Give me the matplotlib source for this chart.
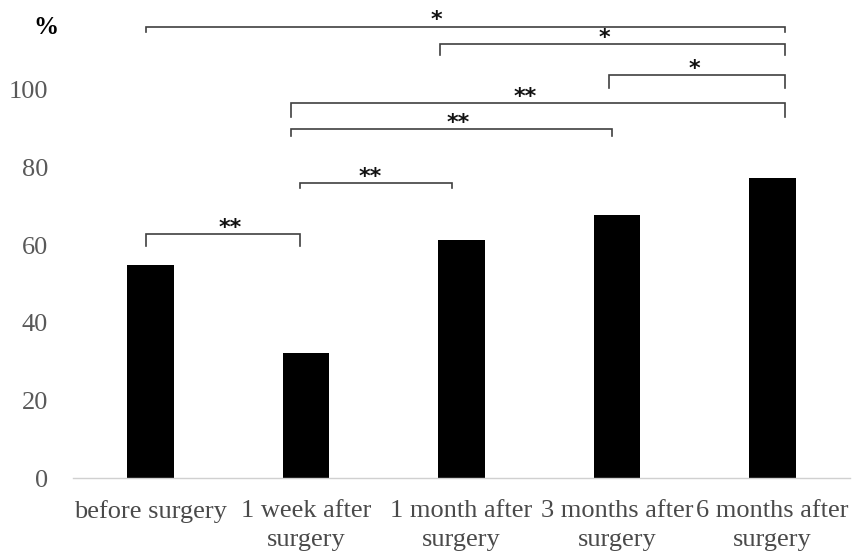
import numpy as np
import matplotlib.pyplot as plt

# categories and values (% of patients)
categories = ['before surgery', '1 week after\nsurgery', '1 month after\nsurgery',
              '3 months after\nsurgery', '6 months after\nsurgery']
values = [54.8, 32.3, 61.2, 67.8, 77.3]

# significance comparisons: (left group, right group, label)
comparisons = [
    (0, 4, '*'),
    (2, 4, '*'),
    (3, 4, '*'),
    (1, 4, '**'),
    (1, 3, '**'),
    (1, 2, '**'),
    (0, 1, '**'),
]

# bracket layout (height, tick drop, left/right offsets, label x)
bracket_y = [116.3, 111.7, 103.7, 96.5, 89.8, 75.9, 62.8]
bracket_drop = [1.3, 2.8, 3.3, 3.6, 1.8, 1.3, 3.1]
left_off = [-0.03, -0.14, -0.05, -0.10, -0.10, -0.04, -0.03]
right_off = [0.08, 0.08, 0.08, 0.08, -0.03, -0.06, -0.04]
label_x = [1.84, 2.92, 3.50, 2.41, 1.98, 1.41, 0.51]

serif = ['Liberation Serif', 'DejaVu Serif']

fig = plt.figure(figsize=(8.53, 5.52), dpi=100)
ax = fig.add_axes([0.0856, 0.134, 0.911, 0.844])

x = np.arange(len(categories))
ax.bar(x, values, width=0.30, color='black')

for k, (i, j, lab) in enumerate(comparisons):
    y = bracket_y[k]
    d = bracket_drop[k]
    x0 = i + left_off[k]
    x1 = j + right_off[k]
    ax.plot([x0, x0, x1, x1], [y - d, y, y, y - d], color='#404040', lw=1.2,
            clip_on=False, solid_joinstyle='miter')
    ax.text(label_x[k], y - 1.0, lab, ha='center', va='bottom', fontsize=16,
            fontweight='bold', color='#111111', family='DejaVu Sans')

ax.set_xlim(-0.5, 4.5)
ax.set_ylim(0, 120)
ax.set_yticks([0, 20, 40, 60, 80, 100])
ax.set_xticks(x)
ax.set_xticklabels(categories, family=serif, fontsize=19, color='#4a4a4a',
                   linespacing=1.4)
ax.tick_params(axis='y', length=0, pad=18, labelsize=19, labelcolor='#595959')
ax.tick_params(axis='x', length=0, pad=16)
for lbl in ax.get_yticklabels():
    lbl.set_family(serif)

for s in ['top', 'right', 'left']:
    ax.spines[s].set_visible(False)
ax.spines['bottom'].set_color('#d0d0d0')
ax.spines['bottom'].set_linewidth(1.0)

fig.text(46 / 853, 1 - 27 / 552, '%', ha='center', va='center', fontsize=18,
         fontweight='bold', family=serif, color='black')

fig.savefig('out.png', dpi=100)
